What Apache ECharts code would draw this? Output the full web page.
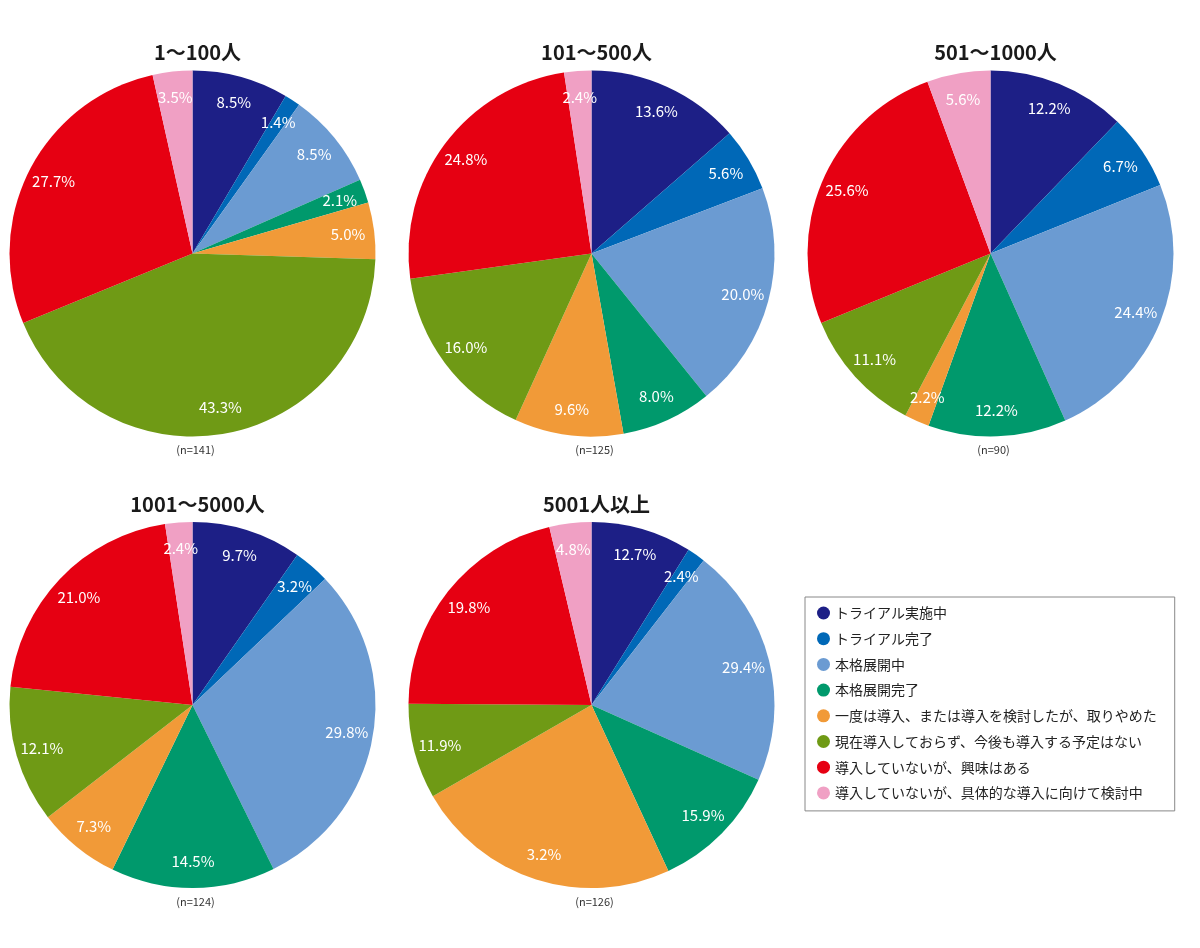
<!DOCTYPE html>
<html>
<head>
<meta charset="utf-8">
<script src="https://cdn.jsdelivr.net/npm/echarts@6/dist/echarts.min.js"></script>
<style>
html,body{margin:0;padding:0;background:#fff;}
#chart{width:1200px;height:948px;}
</style>
</head>
<body>
<div id="chart"></div>
<script>
const categories = [
  'トライアル実施中',
  'トライアル完了',
  '本格展開中',
  '本格展開完了',
  '一度は導入、または導入を検討したが、取りやめた',
  '現在導入しておらず、今後も導入する予定はない',
  '導入していないが、興味はある',
  '導入していないが、具体的な導入に向けて検討中'
];
const colors = ['#1d1f86','#0068b7','#6b9bd2','#00996c','#f19a38','#6f9a15','#e60012','#f0a0c4'];

const titles = ['1〜100人','101〜500人','501〜1000人','1001〜5000人','5001人以上'];
const sampleSizes = ['(n=141)','(n=125)','(n=90)','(n=124)','(n=126)'];

const values1 = [8.5,1.4,8.5,2.1,5.0,43.3,27.7,3.5];
const values2 = [13.6,5.6,20.0,8.0,9.6,16.0,24.8,2.4];
const values3 = [12.2,6.7,24.4,12.2,2.2,11.1,25.6,5.6];
const values4 = [9.7,3.2,29.8,14.5,7.3,12.1,21.0,2.4];
// slice sizes as drawn in the picture for the last pie
const values5 = [8.9,1.6,21.2,11.4,23.6,8.4,21.2,3.7];

const labels1 = ['8.5%','1.4%','8.5%','2.1%','5.0%','43.3%','27.7%','3.5%'];
const labels2 = ['13.6%','5.6%','20.0%','8.0%','9.6%','16.0%','24.8%','2.4%'];
const labels3 = ['12.2%','6.7%','24.4%','12.2%','2.2%','11.1%','25.6%','5.6%'];
const labels4 = ['9.7%','3.2%','29.8%','14.5%','7.3%','12.1%','21.0%','2.4%'];
const labels5 = ['12.7%','2.4%','29.4%','15.9%','3.2%','11.9%','19.8%','4.8%'];

const allValues = [values1,values2,values3,values4,values5];
const allLabels = [labels1,labels2,labels3,labels4,labels5];

const centers = [[192.5,253.5],[591.5,253.5],[990.5,253.5],[192.5,705],[591.5,705]];
const R = 183;
const FONT = '"Noto Sans CJK JP", "Noto Sans", sans-serif';

const series = [];
const titleComps = [];
allValues.forEach((vals, p) => {
  const c = centers[p];
  series.push({
    type: 'pie',
    name: 'pie' + p,
    center: c,
    radius: [0, R],
    startAngle: 90,
    clockwise: true,
    silent: true,
    animation: false,
    label: {show: false},
    labelLine: {show: false},
    emphasis: {disabled: true},
    data: vals.map((v, i) => ({name: categories[i], value: v, itemStyle: {color: colors[i]}}))
  });
  series.push({
    type: 'pie',
    name: 'lab' + p,
    center: c,
    radius: [R * 0.68, R],
    startAngle: 90,
    clockwise: true,
    silent: true,
    animation: false,
    legendHoverLink: false,
    label: {
      show: true,
      position: 'inside',
      color: '#fff',
      fontSize: 15,
      fontFamily: FONT,
      formatter: (prm) => allLabels[p][prm.dataIndex]
    },
    labelLine: {show: false},
    emphasis: {disabled: true},
    itemStyle: {color: 'rgba(0,0,0,0)'},
    data: vals.map((v, i) => ({name: categories[i], value: v}))
  });
  titleComps.push({
    text: titles[p],
    left: c[0],
    top: c[1] - R - 33,
    textAlign: 'center',
    textStyle: {fontSize: 20, fontWeight: 'bold', color: '#1a1a1a', fontFamily: FONT}
  });
  titleComps.push({
    text: sampleSizes[p],
    left: c[0] - 2,
    top: c[1] + R + 3,
    textAlign: 'center',
    textStyle: {fontSize: 11, fontWeight: 'normal', color: '#333', fontFamily: FONT}
  });
});

const chart = echarts.init(document.getElementById('chart'), null, {renderer: 'canvas'});
chart.setOption({
  backgroundColor: '#fff',
  animation: false,
  title: titleComps,
  legend: {
    orient: 'vertical',
    left: 805,
    top: 597,
    padding: [9, 18, 11, 12],
    itemGap: 11.7,
    itemWidth: 13,
    itemHeight: 13,
    icon: 'circle',
    borderColor: '#888',
    borderWidth: 1,
    selectedMode: false,
    textStyle: {fontSize: 14, color: '#222', fontFamily: FONT},
    data: categories.map((n, i) => ({name: n, itemStyle: {color: colors[i]}}))
  },
  series: series
});
</script>
</body>
</html>
